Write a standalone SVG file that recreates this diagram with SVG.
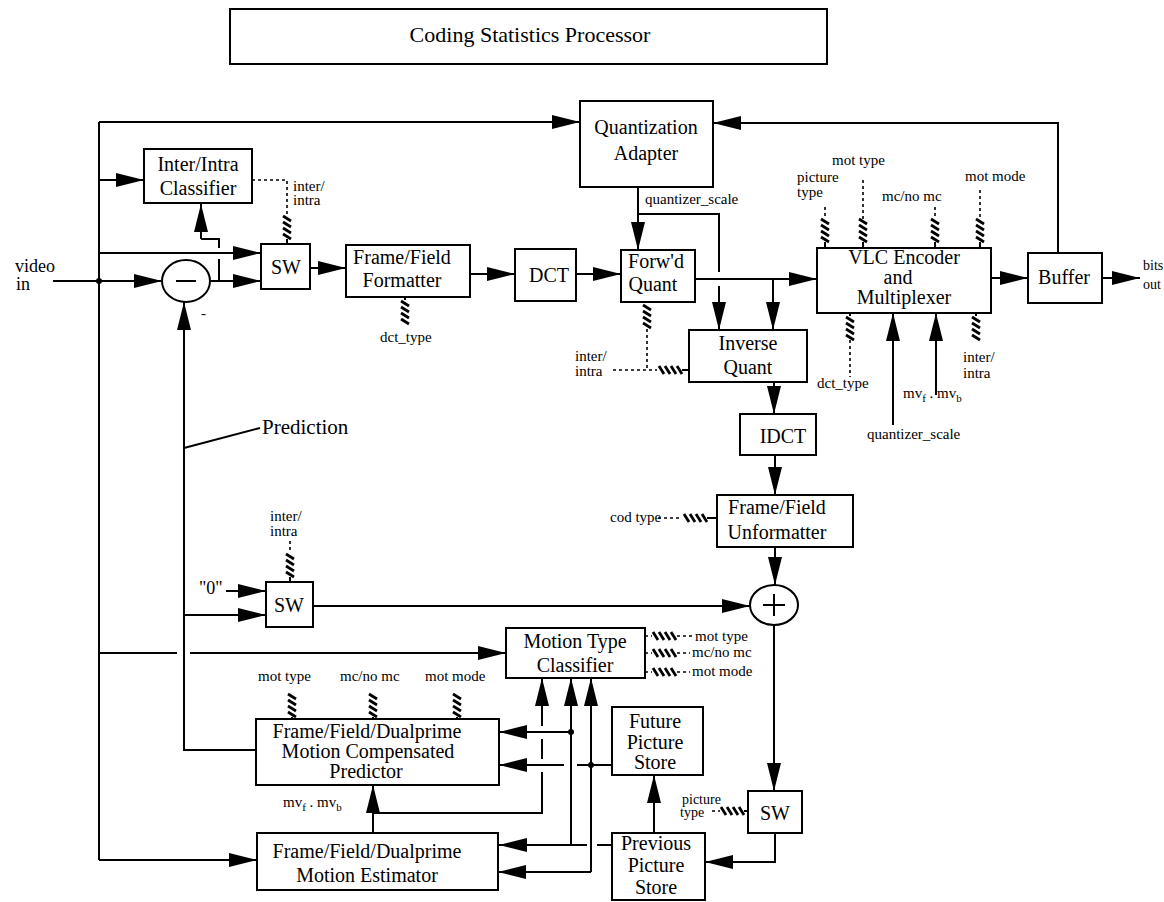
<svg xmlns="http://www.w3.org/2000/svg" width="1164" height="902" viewBox="0 0 1164 902">
<defs>
<style>
.b{fill:#fff;stroke:#000;stroke-width:2}
.t{font-family:"Liberation Serif","Times New Roman",serif;font-size:20px;text-anchor:middle;fill:#000}
.s{font-family:"Liberation Serif","Times New Roman",serif;font-size:15px;fill:#000}
.c{fill:none;stroke:#000;stroke-width:2}
.a{marker-end:url(#ah)}
.d{fill:none;stroke:#000;stroke-width:1.6;stroke-dasharray:3 3}
.h{fill:none;stroke:#000;stroke-width:2.8}
</style>
<marker id="ah" markerUnits="userSpaceOnUse" markerWidth="30" markerHeight="16" refX="28" refY="8" orient="auto"><path d="M0,1 L28,8 L0,15 z" fill="#000"/></marker>
<path id="hv" class="h" d="M-4,0 L4,5 M-4,6 L4,11 M-4,12 L4,17 M-4,18 L4,23"/>
<path id="hh" class="h" d="M0,-4 L5,4 M6,-4 L11,4 M12,-4 L17,4 M18,-4 L23,4"/>
</defs>
<rect width="1164" height="902" fill="#fff"/>

<g id="title"><rect class="b" x="230" y="9" width="597" height="55"/><text class="t" style="font-size:22px" x="530" y="42">Coding Statistics Processor</text></g>
<g id="qadapter"><rect class="b" x="580" y="101" width="133" height="86"/><text class="t" x="646" y="134">Quantization</text><text class="t" x="646" y="160">Adapter</text></g>
<g id="classifier"><rect class="b" x="144" y="149" width="108" height="54"/><text class="t" x="198" y="171">Inter/Intra</text><text class="t" x="198" y="195">Classifier</text></g>
<g id="sw1"><rect class="b" x="261" y="244" width="49" height="45"/><text class="t" x="286" y="274">SW</text></g>
<g id="minus"><ellipse class="b" cx="186" cy="281" rx="24" ry="21"/><path class="c" d="M176,281 H196"/></g>
<g id="formatter"><rect class="b" x="346" y="245" width="124" height="52"/><text class="t" x="402" y="264">Frame/Field</text><text class="t" x="402" y="287">Formatter</text></g>
<g id="dct"><rect class="b" x="515" y="249" width="61" height="52"/><text class="t" x="549" y="282">DCT</text></g>
<g id="fquant"><rect class="b" x="621" y="250" width="74" height="52"/><text class="t" x="656" y="268">Forw'd</text><text class="t" x="653" y="291">Quant</text></g>
<g id="iquant"><rect class="b" x="689" y="330" width="118" height="52"/><text class="t" x="748" y="350">Inverse</text><text class="t" x="748" y="374">Quant</text></g>
<g id="vlc"><rect class="b" x="817" y="248" width="174" height="65"/><text class="t" x="904" y="264">VLC Encoder</text><text class="t" x="898" y="284">and</text><text class="t" x="904" y="304">Multiplexer</text></g>
<g id="buffer"><rect class="b" x="1028" y="253" width="74" height="50"/><text class="t" x="1064" y="284">Buffer</text></g>
<g id="idct"><rect class="b" x="740" y="414" width="76" height="41"/><text class="t" x="783" y="443">IDCT</text></g>
<g id="unformatter"><rect class="b" x="717" y="495" width="136" height="52"/><text class="t" x="777" y="514">Frame/Field</text><text class="t" x="777" y="539">Unformatter</text></g>
<g id="plus"><ellipse class="b" cx="774" cy="605" rx="24" ry="20"/><path class="c" d="M763,605 H785 M774,594 V616"/></g>
<g id="sw2"><rect class="b" x="266" y="582" width="47" height="45"/><text class="t" x="289" y="612">SW</text></g>
<g id="sw3"><rect class="b" x="748" y="791" width="54" height="42"/><text class="t" x="775" y="820">SW</text></g>
<g id="motiontype"><rect class="b" x="506" y="628" width="139" height="50"/><text class="t" x="575" y="648">Motion Type</text><text class="t" x="575" y="672">Classifier</text></g>
<g id="future"><rect class="b" x="612" y="707" width="91" height="68"/><text class="t" x="655" y="728">Future</text><text class="t" x="655" y="749">Picture</text><text class="t" x="655" y="769">Store</text></g>
<g id="previous"><rect class="b" x="612" y="833" width="93" height="67"/><text class="t" x="656" y="850">Previous</text><text class="t" x="656" y="872">Picture</text><text class="t" x="656" y="894">Store</text></g>
<g id="predictor"><rect class="b" x="256" y="719" width="243" height="66"/><text class="t" x="367" y="738">Frame/Field/Dualprime</text><text class="t" x="368" y="758">Motion Compensated</text><text class="t" x="366" y="778">Predictor</text></g>
<g id="estimator"><rect class="b" x="257" y="833" width="241" height="57"/><text class="t" x="367" y="858">Frame/Field/Dualprime</text><text class="t" x="367" y="882">Motion Estimator</text></g>

<g id="connectors">
<path class="c" d="M99,122 V860"/>
<path class="c a" d="M99,122 H580"/>
<path class="c a" d="M99,180 H144"/>
<path class="c a" d="M99,253 H261"/>
<path class="c a" d="M53,281 H162"/>
<circle cx="99" cy="281" r="3" fill="#000"/>
<path class="c a" d="M210,281 H261"/>
<path class="c" d="M219,281 V259 M219,248 V239 H201"/>
<path class="c a" d="M201,239 V204"/>
<path class="c a" d="M310,268 H346"/>
<path class="c a" d="M470,274 H515"/>
<path class="c a" d="M576,274 H621"/>
<path class="c a" d="M638,187 V250"/>
<path class="c" d="M638,214 H719 V272"/>
<path class="c a" d="M719,286 V330"/>
<path class="c a" d="M695,279 H817"/>
<path class="c a" d="M773,279 V330"/>
<path class="c a" d="M774,382 V414"/>
<path class="c a" d="M775,455 V495"/>
<path class="c a" d="M775,547 V585"/>
<path class="c a" d="M991,278 H1028"/>
<path class="c a" d="M1102,278 H1140"/>
<path class="c a" d="M1058,253 V123 H713"/>
<path class="c a" d="M893,425 V313"/>
<path class="c a" d="M936,395 V313"/>
<path class="c a" d="M256,750 H184 V302"/>
<path class="c" d="M184,448 L260,428"/>
<path class="c a" d="M184,615 H266"/>
<path class="c a" d="M226,591 H266"/>
<path class="c a" d="M313,606 H750"/>
<path class="c a" d="M774,625 V791"/>
<path class="c a" d="M775,833 V862 H705"/>
<path class="c" d="M99,653 H177"/>
<path class="c a" d="M190,653 H506"/>
<path class="c a" d="M99,860 H257"/>
<path class="c a" d="M654,833 V775"/>
<path class="c a" d="M373,833 V785"/>
<path class="c" d="M373,813 H542 V772 M542,759 V739"/>
<path class="c a" d="M542,726 V678"/>
<path class="c" d="M612,845 H597"/>
<path class="c a" d="M587,845 H499"/>
<path class="c a" d="M571,845 V678"/>
<circle cx="571" cy="732" r="3" fill="#000"/>
<path class="c a" d="M571,732 H499"/>
<path class="c" d="M612,765 H577"/>
<path class="c a" d="M564,765 H499"/>
<circle cx="591" cy="765" r="3" fill="#000"/>
<path class="c a" d="M591,872 V678"/>
<path class="c a" d="M591,872 H498"/>
</g>

<g id="signals">
<path class="d" d="M252,180 H287 V216"/>
<use href="#hv" x="287" y="216"/>
<path class="c" d="M287,239 V244"/>
<path class="c" d="M405,297 V300"/>
<use href="#hv" x="405" y="301"/>
<use href="#hv" x="647" y="305"/>
<path class="d" d="M647,329 V370 M613,370 H657"/>
<use href="#hh" x="659" y="370"/>
<path class="c" d="M682,370 H689"/>
<path class="d" d="M825,207 V219 M863,180 V219 M935,207 V219 M980,190 V219"/>
<use href="#hv" x="825" y="219"/>
<use href="#hv" x="863" y="219"/>
<use href="#hv" x="935" y="219"/>
<use href="#hv" x="980" y="219"/>
<path class="c" d="M825,242 V248 M863,242 V248 M935,242 V248 M980,242 V248"/>
<path class="c" d="M850,313 V316 M976,313 V316"/>
<use href="#hv" x="850" y="317"/>
<use href="#hv" x="976" y="317"/>
<path class="d" d="M850,340 V377"/>
<path class="d" d="M658,518 H682"/>
<use href="#hh" x="684" y="518"/>
<path class="c" d="M707,518 H717"/>
<path class="d" d="M290,541 V553"/>
<use href="#hv" x="290" y="554"/>
<path class="c" d="M290,577 V582"/>
<use href="#hv" x="292" y="694"/>
<use href="#hv" x="373" y="694"/>
<use href="#hv" x="457" y="694"/>
<path class="c" d="M292,717 V719 M373,717 V719 M457,717 V719"/>
<path class="d" d="M645,636 H652 M645,653 H652 M645,672 H652"/>
<use href="#hh" x="653" y="636"/>
<use href="#hh" x="653" y="653"/>
<use href="#hh" x="653" y="672"/>
<path class="d" d="M677,636 H692 M677,653 H690 M677,672 H690"/>
<path class="d" d="M712,811 H720"/>
<use href="#hh" x="721" y="811"/>
<path class="c" d="M744,811 H748"/>
</g>

<g id="labels">
<text class="s" style="font-size:18px" x="15" y="272">video</text>
<text class="s" style="font-size:18px" x="16" y="290">in</text>
<text class="s" x="201" y="318">-</text>
<text class="s" style="font-size:21px" x="262" y="434">Prediction</text>
<text class="s" style="font-size:18px" x="199" y="594">"0"</text>
<text class="s" style="font-size:14px" x="1143" y="270">bits</text>
<text class="s" style="font-size:14px" x="1143" y="289">out</text>
<text class="s" x="293" y="191">inter/</text>
<text class="s" x="293" y="205">intra</text>
<text class="s" x="380" y="342">dct_type</text>
<text class="s" x="645" y="204">quantizer_scale</text>
<text class="s" x="575" y="361">inter/</text>
<text class="s" x="575" y="376">intra</text>
<text class="s" x="797" y="182">picture</text>
<text class="s" x="797" y="197">type</text>
<text class="s" x="832" y="165">mot type</text>
<text class="s" x="882" y="201">mc/no mc</text>
<text class="s" x="965" y="181">mot mode</text>
<text class="s" x="817" y="388">dct_type</text>
<text class="s" x="963" y="362">inter/</text>
<text class="s" x="963" y="378">intra</text>
<text class="s" x="903" y="398">mv<tspan dy="4" font-size="11">f</tspan><tspan dy="-4"> . mv</tspan><tspan dy="4" font-size="11">b</tspan></text>
<text class="s" x="867" y="439">quantizer_scale</text>
<text class="s" x="610" y="522">cod type</text>
<text class="s" x="270" y="521">inter/</text>
<text class="s" x="270" y="536">intra</text>
<text class="s" x="695" y="641">mot type</text>
<text class="s" x="692" y="657">mc/no mc</text>
<text class="s" x="692" y="676">mot mode</text>
<text class="s" x="258" y="681">mot type</text>
<text class="s" x="340" y="681">mc/no mc</text>
<text class="s" x="425" y="681">mot mode</text>
<text class="s" x="283" y="807">mv<tspan dy="4" font-size="11">f</tspan><tspan dy="-4"> . mv</tspan><tspan dy="4" font-size="11">b</tspan></text>
<text class="s" style="font-size:14px" x="682" y="804">picture</text>
<text class="s" style="font-size:14px" x="680" y="817">type</text>
</g>
</svg>
